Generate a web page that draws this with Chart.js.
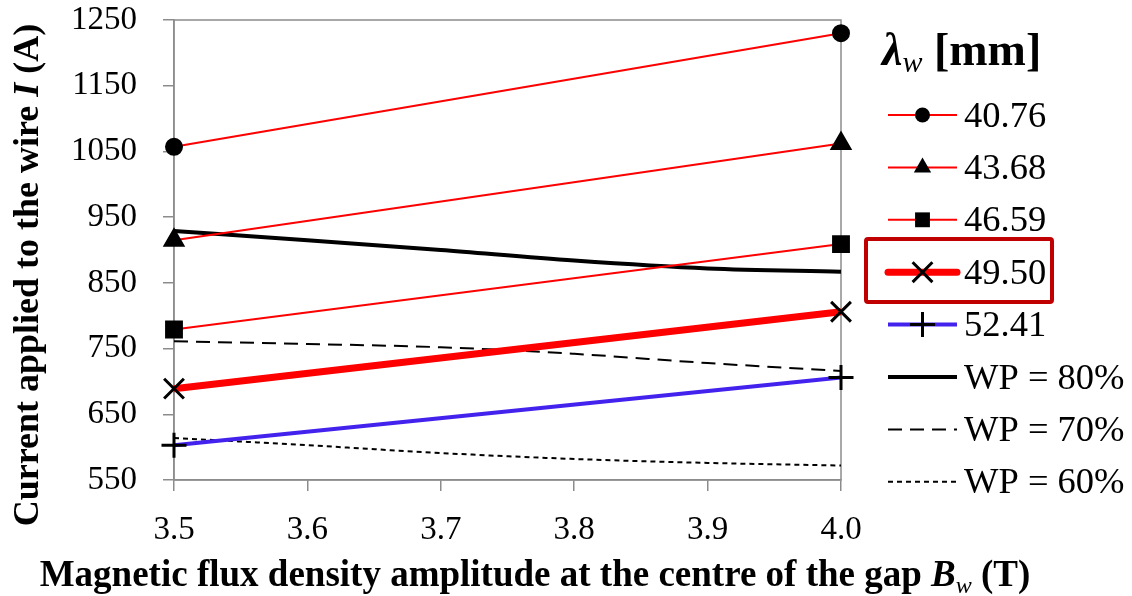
<!DOCTYPE html>
<html>
<head>
<meta charset="utf-8">
<script src="https://cdn.jsdelivr.net/npm/chart.js@4/dist/chart.umd.min.js"></script>
<style>
  html, body { margin: 0; padding: 0; background: #fff; overflow: hidden; }
  #wrap { width: 1132px; height: 596px; position: relative; }
</style>
</head>
<body>
<div id="wrap"><canvas id="chartCorriente" width="1132" height="596"></canvas></div>
<script>
const ctxCorriente = document.getElementById('chartCorriente');

// eje x (T)
const bw = [3.5, 4.0];
const bwWP = [3.5, 3.6, 3.7, 3.8, 3.9, 4.0];

// corriente (A) por longitud de onda
const i4076 = [1057, 1230];
const i4368 = [915, 1062];
const i4659 = [779, 909];
const i4950 = [689, 806];
const i5241 = [603, 706];

// curvas WP
const wp80 = [929, 915, 900, 884, 872, 867];
const wp70 = [761, 757, 752, 742, 728, 716];
const wp60 = [614, 603, 591, 582, 576, 572];

const etiquetas = ['40.76', '43.68', '46.59', '49.50', '52.41', 'WP = 80%', 'WP = 70%', 'WP = 60%'];
const xTicks = [3.5, 3.6, 3.7, 3.8, 3.9, 4.0];
const yTicks = [550, 650, 750, 850, 950, 1050, 1150, 1250];

const FUENTE = "'Liberation Serif', 'Times New Roman', serif";
Chart.defaults.font.family = FUENTE;

function puntos(xs, ys) {
    return xs.map((x, i) => ({ x: x, y: ys[i] }));
}

function serieLambda(label, valores, color, ancho, estilo, radio) {
    return {
        label: label,
        data: puntos(bw, valores),
        borderColor: color,
        borderWidth: ancho,
        pointStyle: estilo,
        pointRadius: radio,
        pointBackgroundColor: '#000',
        pointBorderColor: '#000',
        pointBorderWidth: 3,
        clip: false
    };
}

function serieWP(label, valores, ancho, dash) {
    return {
        label: label,
        data: puntos(bwWP, valores),
        borderColor: '#000',
        borderWidth: ancho,
        borderDash: dash,
        pointRadius: 0,
        cubicInterpolationMode: 'monotone',
        clip: false
    };
}

function dibujarMarca(ctx, estilo, r, x, y) {
    if (!estilo || !r) return;
    ctx.save();
    ctx.fillStyle = '#000';
    ctx.strokeStyle = '#000';
    ctx.lineWidth = 3;
    ctx.setLineDash([]);
    ctx.beginPath();
    if (estilo === 'circle') {
        ctx.arc(x, y, r, 0, Math.PI * 2);
        ctx.fill();
    } else if (estilo === 'triangle') {
        const dx = Math.cos(Math.PI / 6) * r;
        ctx.moveTo(x, y - r);
        ctx.lineTo(x + dx, y + r / 2);
        ctx.lineTo(x - dx, y + r / 2);
        ctx.closePath();
        ctx.fill();
    } else if (estilo === 'rect') {
        const s = Math.SQRT1_2 * r;
        ctx.rect(x - s, y - s, 2 * s, 2 * s);
        ctx.fill();
    } else if (estilo === 'crossRot') {
        const s = Math.SQRT1_2 * r;
        ctx.moveTo(x - s, y - s); ctx.lineTo(x + s, y + s);
        ctx.moveTo(x - s, y + s); ctx.lineTo(x + s, y - s);
        ctx.stroke();
    } else if (estilo === 'cross') {
        ctx.moveTo(x, y - r); ctx.lineTo(x, y + r);
        ctx.moveTo(x - r, y); ctx.lineTo(x + r, y);
        ctx.stroke();
    }
    ctx.restore();
}

// texto con partes en distinto estilo: [texto, fuente, desplazamiento y]
function textoMixto(ctx, partes, x, y, centrado) {
    let total = 0;
    partes.forEach(p => { ctx.font = p[1]; total += ctx.measureText(p[0]).width; });
    let cx = centrado ? x - total / 2 : x;
    partes.forEach(p => {
        ctx.font = p[1];
        ctx.fillText(p[0], cx, y + (p[2] || 0));
        cx += ctx.measureText(p[0]).width;
    });
}

const marco = {
    id: 'marco',
    beforeDatasetsDraw(chart) {
        const { ctx, chartArea } = chart;
        ctx.save();
        ctx.strokeStyle = '#8c8c8c';
        ctx.lineWidth = 1.5;
        ctx.strokeRect(chartArea.left, chartArea.top, chartArea.right - chartArea.left, chartArea.bottom - chartArea.top);
        ctx.restore();
    }
};

const textos = {
    id: 'textos',
    afterDraw(chart) {
        const ctx = chart.ctx;
        ctx.save();
        ctx.fillStyle = '#000';
        ctx.textBaseline = 'alphabetic';

        // titulo eje x
        textoMixto(ctx, [
            ['Magnetic flux density amplitude at the centre of the gap ', 'bold 37px ' + FUENTE],
            ['B', 'italic bold 37px ' + FUENTE],
            ['w', 'italic 24px ' + FUENTE, 7],
            [' (T)', 'bold 37px ' + FUENTE]
        ], 535, 586, true);

        // titulo eje y
        ctx.save();
        ctx.translate(38, 275);
        ctx.rotate(-Math.PI / 2);
        textoMixto(ctx, [
            ['Current applied to the wire ', 'bold 36px ' + FUENTE],
            ['I', 'italic bold 36px ' + FUENTE],
            [' (A)', 'bold 36px ' + FUENTE]
        ], 0, 0, true);
        ctx.restore();

        // leyenda
        textoMixto(ctx, [
            ['λ', 'italic bold 46px ' + FUENTE],
            ['w', 'italic 30px ' + FUENTE, 7],
            [' [mm]', 'bold 46px ' + FUENTE]
        ], 882, 65, false);

        const x0 = 888, x1 = 957, xt = 964;
        chart.data.datasets.forEach((ds, i) => {
            const y = 115 + i * 52.4;
            ctx.save();
            ctx.strokeStyle = ds.borderColor;
            ctx.lineWidth = ds.borderWidth;
            ctx.lineCap = ds.borderWidth > 5 ? 'round' : 'butt';
            ctx.setLineDash(ds.borderDash || []);
            ctx.beginPath();
            ctx.moveTo(x0, y);
            ctx.lineTo(x1, y);
            ctx.stroke();
            ctx.restore();
            dibujarMarca(ctx, ds.pointStyle, ds.pointRadius, (x0 + x1) / 2, y);
            ctx.font = '36.5px ' + FUENTE;
            ctx.textBaseline = 'middle';
            ctx.fillText(ds.label, xt, y + 2);
        });

        // recuadro en 49.50
        ctx.strokeStyle = '#c00000';
        ctx.lineWidth = 4;
        ctx.beginPath();
        ctx.roundRect(866, 239, 186, 63, 2);
        ctx.stroke();
        ctx.restore();
    }
};

function sinSobrante(scale) {
    scale.paddingTop = 0;
    scale.paddingBottom = 0;
    scale.paddingLeft = 0;
    scale.paddingRight = 0;
}

new Chart(ctxCorriente, {
    type: 'line',
    data: {
        datasets: [
            serieLambda(etiquetas[0], i4076, '#ff0000', 2, 'circle', 7.5),
            serieLambda(etiquetas[1], i4368, '#ff0000', 2, 'triangle', 10),
            serieLambda(etiquetas[2], i4659, '#ff0000', 2, 'rect', 10.5),
            serieLambda(etiquetas[3], i4950, '#ff0000', 7, 'crossRot', 14),
            serieLambda(etiquetas[4], i5241, '#4422ee', 4, 'cross', 12.5),
            serieWP(etiquetas[5], wp80, 4, []),
            serieWP(etiquetas[6], wp70, 2, [14, 8]),
            serieWP(etiquetas[7], wp60, 2, [5, 4])
        ]
    },
    options: {
        responsive: false,
        animation: false,
        devicePixelRatio: 1,
        layout: { padding: { top: 20, right: 291, left: 0, bottom: 0 } },
        plugins: {
            legend: { display: false },
            tooltip: { enabled: false }
        },
        scales: {
            x: {
                type: 'linear',
                min: 3.5,
                max: 4.0,
                afterBuildTicks: scale => { scale.ticks = xTicks.map(v => ({ value: v })); },
                afterFit: scale => { scale.height = 116; sinSobrante(scale); },
                ticks: {
                    color: '#000',
                    font: { family: FUENTE, size: 33 },
                    padding: 20,
                    callback: v => Number(v).toFixed(1)
                },
                grid: { drawOnChartArea: false, drawTicks: true, tickLength: 11, color: '#8c8c8c', lineWidth: 1.5 },
                border: { display: true, color: '#8c8c8c', width: 1.5 }
            },
            y: {
                min: 550,
                max: 1250,
                afterBuildTicks: scale => { scale.ticks = yTicks.map(v => ({ value: v })); },
                afterFit: scale => { scale.width = 174; sinSobrante(scale); },
                ticks: {
                    color: '#000',
                    font: { family: FUENTE, size: 33 },
                    padding: 26,
                    callback: v => String(v)
                },
                grid: { drawOnChartArea: false, drawTicks: true, tickLength: 11, color: '#8c8c8c', lineWidth: 1.5 },
                border: { display: true, color: '#8c8c8c', width: 1.5 }
            }
        }
    },
    plugins: [marco, textos]
});
</script>
</body>
</html>
